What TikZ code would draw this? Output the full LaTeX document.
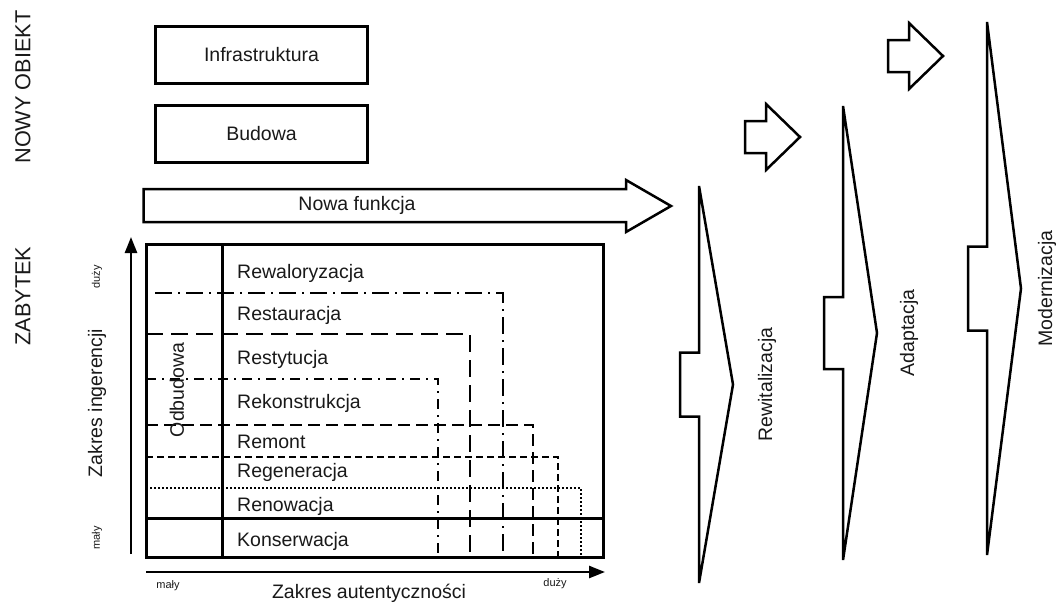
\documentclass[tikz,border=0pt]{standalone}
\usepackage{fontspec}
\setmainfont{Liberation Sans}
\usepackage{tikz}
\usetikzlibrary{arrows.meta}
\definecolor{ink}{RGB}{25, 25, 25}
\newcommand{\mainsize}{\fontsize{19.5}{23}\selectfont}
\newcommand{\smallsize}{\fontsize{11}{13}\selectfont}
\newcommand{\titlesize}{\fontsize{21.7}{26}\selectfont}
\tikzset{
  txt/.style={inner sep=0pt, text=ink, font=\mainsize},
  box/.style={draw, line width=2.5pt, minimum width=212, minimum height=57, inner sep=0pt, text=ink, font=\mainsize},
  outline/.style={draw, line width=2.5pt, line join=miter},
  frame/.style={line width=3pt},
  axis/.style={line width=2.5pt, -{Triangle[length=16pt, width=12pt]}},
  dashdotlong/.style={line width=2.5pt, dash pattern=on 17pt off 6pt on 2pt off 6pt},
  longdash/.style={line width=2.5pt, dash pattern=on 17pt off 8pt},
  dashdotshort/.style={line width=2.5pt, dash pattern=on 10pt off 6pt on 2pt off 6pt},
  middash/.style={line width=2.5pt, dash pattern=on 12pt off 6pt},
  shortdash/.style={line width=2.5pt, dash pattern=on 7pt off 4pt},
  finedot/.style={line width=2.5pt, dash pattern=on 2pt off 2pt}
}
\begin{document}
\begin{tikzpicture}[x=1pt, y=-1pt]
  \useasboundingbox (0,0) rectangle (1056,605);

  \node[txt, rotate=90, font=\titlesize] (nowy) at (23,87) {NOWY OBIEKT};
  \node[txt, rotate=90, font=\titlesize] (zabytek) at (23,296) {ZABYTEK};

  \node[box] (infra) at (261.5,55) {Infrastruktura};
  \node[box] (budowa) at (261.5,134) {Budowa};

  % nowa funkcja
  \draw[outline] (143.5,189) -- (626,189) -- (626,180) -- (671,206)
    -- (626,232) -- (626,222) -- (143.5,222) -- cycle;
  \node[txt] (funkcja) at (357,205) {Nowa funkcja};

  \foreach \x/\y in {745/137, 888/56} {
    \draw[outline] (\x,\y-16) -- (\x+21,\y-16) -- (\x+21,\y-33) -- (\x+55,\y)
      -- (\x+21,\y+33) -- (\x+21,\y+16) -- (\x,\y+16) -- cycle;
  }

  \foreach \x/\t/\b/\n/\lx/\name/\lab in {699/186/583/32/767/rew/Rewitalizacja,
                                           843/106/560/36/909/ada/Adaptacja,
                                           987/22/555/42/1047/mod/Modernizacja} {
    \pgfmathsetmacro{\m}{(\t+\b)/2}
    \draw[outline] (\x,\t) -- (\x+34,\m) -- (\x,\b) -- (\x,\m+\n)
      -- (\x-19,\m+\n) -- (\x-19,\m-\n) -- (\x,\m-\n) -- cycle;
    \node[txt, rotate=90] (\name) at (\lx,\m) {\lab};
  }

  % zabytek
  \draw[frame] (146,244) rectangle (603,557);
  \draw[frame] (222,244) -- (222,557);
  \draw[frame] (146,518) -- (603,518);

  \foreach \y/\x/\s/\a in {293/503/dashdotlong/155, 334/470/longdash/146,
                           379/438/dashdotshort/146, 425/533/middash/146,
                           457/558/shortdash/146, 488/581/finedot/146} {
    \draw[\s] (\a,\y) -| (\x,557);
  }

  \foreach \y/\t in {273/Rewaloryzacja, 315/Restauracja, 359/Restytucja,
                     403/Rekonstrukcja, 442/Remont, 472/Regeneracja,
                     506/Renowacja, 541/Konserwacja} {
    \node[txt, anchor=west] (r\y) at (237,\y) {\t};
  }
  \node[txt, rotate=90] (odbudowa) at (177,390) {Odbudowa};

  % osie
  \coordinate (yfrom) at (131,554);
  \coordinate (yto) at (131,237);
  \coordinate (xfrom) at (146,572);
  \coordinate (xto) at (605,572);
  \draw[axis] (yfrom) -- (yto);
  \draw[axis] (xfrom) -- (xto);

  \node[txt, rotate=90] (ingerencja) at (97,403) {Zakres ingerencji};
  \node[txt, rotate=90, font=\smallsize] (duzyy) at (97,277) {duży};
  \node[txt, rotate=90, font=\smallsize] (malyy) at (97,538) {mały};
  \node[txt] (autent) at (369,593) {Zakres autentyczności};
  \node[txt, font=\smallsize] (malyx) at (168,586) {mały};
  \node[txt, font=\smallsize] (duzyx) at (555,584) {duży};
\end{tikzpicture}
\end{document}
